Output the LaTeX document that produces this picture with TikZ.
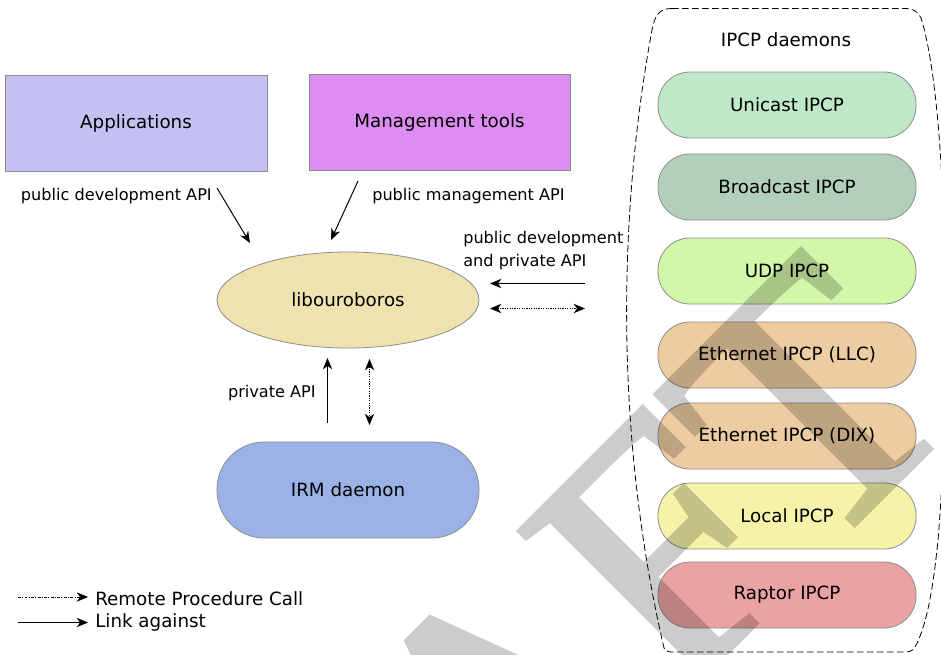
\documentclass[tikz,border=0pt]{standalone}
\usepackage{fontspec}
\setmainfont{DejaVu Sans}
\newfontfamily\wmfont[FakeBold=1.5]{Liberation Serif}
\usetikzlibrary{arrows.meta,shapes.geometric}
\definecolor{appcol}{RGB}{196,192,242}
\definecolor{mgmtcol}{RGB}{221,141,242}
\definecolor{libcol}{RGB}{238,226,174}
\definecolor{irmcol}{RGB}{155,178,232}
\definecolor{unicol}{RGB}{190,232,200}
\definecolor{bcastcol}{RGB}{178,207,186}
\definecolor{udpcol}{RGB}{210,247,168}
\definecolor{ethcol}{RGB}{237,204,161}
\definecolor{localcol}{RGB}{246,243,169}
\definecolor{raptorcol}{RGB}{235,162,162}
\definecolor{edgecol}{RGB}{140,140,140}
\begin{document}
\begin{tikzpicture}[x=0.75pt,y=-0.75pt,
  mainfont/.style={font=\fontsize{13.7}{16}\selectfont},
  rectbox/.style={draw=edgecol, line width=0.6pt, minimum width=196.5pt, minimum height=72pt, inner sep=0pt, mainfont},
  pill/.style={draw=edgecol, line width=0.6pt, minimum width=193.5pt, minimum height=49.5pt, rounded corners=24pt, inner sep=0pt, mainfont},
  lbl/.style={font=\fontsize{12.1}{14.5}\selectfont, inner sep=0pt},
  mytip/.tip={Stealth[length=8.5pt,width=7pt,inset=2.6pt]},
  link/.style={-mytip, line width=0.75pt},
  rpc/.style={mytip-mytip, line width=0.6pt, dash pattern=on 0.9pt off 0.9pt},
]
\useasboundingbox (0,0) rectangle (941,654);
\fill[white] (0,0) rectangle (941,654);

% left side nodes
\node[rectbox, fill=appcol] (app) at (136,123) {Applications};
\node[rectbox, fill=mgmtcol, minimum width=195.75pt] (mgmt) at (439.5,122) {Management tools};
\node[ellipse, draw=edgecol, line width=0.6pt, fill=libcol, minimum width=196.5pt, minimum height=72pt, inner sep=0pt, mainfont] (lib) at (348,300) {libouroboros};
\node[rectbox, fill=irmcol, rounded corners=35.5pt] (irm) at (348,490) {IRM daemon};

% IPCP container
\draw[line width=0.6pt, dash pattern=on 5pt off 2.5pt]
  (672,8.5) -- (905,8.5) .. controls (914,8.5) and (918,12) .. (921,18)
  .. controls (950,110) and (950,400) .. (938,540)
  .. controls (932,600) and (925,625) .. (918,641)
  .. controls (914,650) and (912,652) .. (905,652) -- (672,652)
  .. controls (667,652) and (665,650) .. (664,648)
  .. controls (618,450) and (615,230) .. (652,30)
  .. controls (655,14) and (660,8.5) .. (672,8.5) -- cycle;
\node[mainfont, inner sep=0pt] (title) at (786,40) {IPCP daemons};
\node[pill, fill=unicol] (uni) at (787,105) {Unicast IPCP};
\node[pill, fill=bcastcol] (bcast) at (787,187) {Broadcast IPCP};
\node[pill, fill=udpcol] (udp) at (787,271) {UDP IPCP};
\node[pill, fill=ethcol] (llc) at (787,355) {Ethernet IPCP (LLC)};
\node[pill, fill=ethcol] (dix) at (787,436) {Ethernet IPCP (DIX)};
\node[pill, fill=localcol] (local) at (787,516) {Local IPCP};
\node[pill, fill=raptorcol] (raptor) at (787,595) {Raptor IPCP};

% labels
\node[lbl, anchor=east] (ldev) at (212,196) {public development API};
\node[lbl, anchor=west] (lmgmt) at (372,196) {public management API};
\node[lbl, anchor=west, align=left, font=\fontsize{12.1}{17.25}\selectfont] (lpriv) at (463,250.5) {public development\\and private API};
\node[lbl, anchor=east] (lirm) at (316,393) {private API};

% connector end points
\coordinate (a1s) at (217,188);
\coordinate (a1e) at (250,243);
\coordinate (a2s) at (358,181);
\coordinate (a2e) at (331,240);
\coordinate (a3s) at (585,283.5);
\coordinate (a3e) at (490,283.5);
\coordinate (a4s) at (490,308.5);
\coordinate (a4e) at (585,308.5);
\coordinate (a5s) at (327.5,423);
\coordinate (a5e) at (327.5,358);
\coordinate (a6s) at (369.5,359);
\coordinate (a6e) at (369.5,425);

\draw[link] (a1s) -- (a1e);
\draw[link] (a2s) -- (a2e);
\draw[link] (a3s) -- (a3e);
\draw[rpc] (a4s) -- (a4e);
\draw[link] (a5s) -- (a5e);
\draw[rpc] (a6s) -- (a6e);

% legend
\coordinate (l1s) at (18,597);
\coordinate (l1e) at (88,597);
\coordinate (l2s) at (18,622.5);
\coordinate (l2e) at (88,622.5);
\draw[-mytip, line width=0.6pt, dash pattern=on 2.2pt off 1pt on 0.7pt off 1pt] (l1s) -- (l1e);
\draw[link] (l2s) -- (l2e);
\node[mainfont, inner sep=0pt, anchor=west] (leg1) at (95,599) {Remote Procedure Call};
\node[mainfont, inner sep=0pt, anchor=west] (leg2) at (95,622.5) {Link against};

% watermark
\begin{scope}[transparency group, opacity=0.2]
\clip (0,0) rectangle (941,654);
\node[rotate=45, anchor=base east, inner sep=0pt, font=\wmfont\fontsize{266}{270}\selectfont, text=black] (wm) at (969.5,409.5) {DRAFT};
\end{scope}
\end{tikzpicture}
\end{document}
